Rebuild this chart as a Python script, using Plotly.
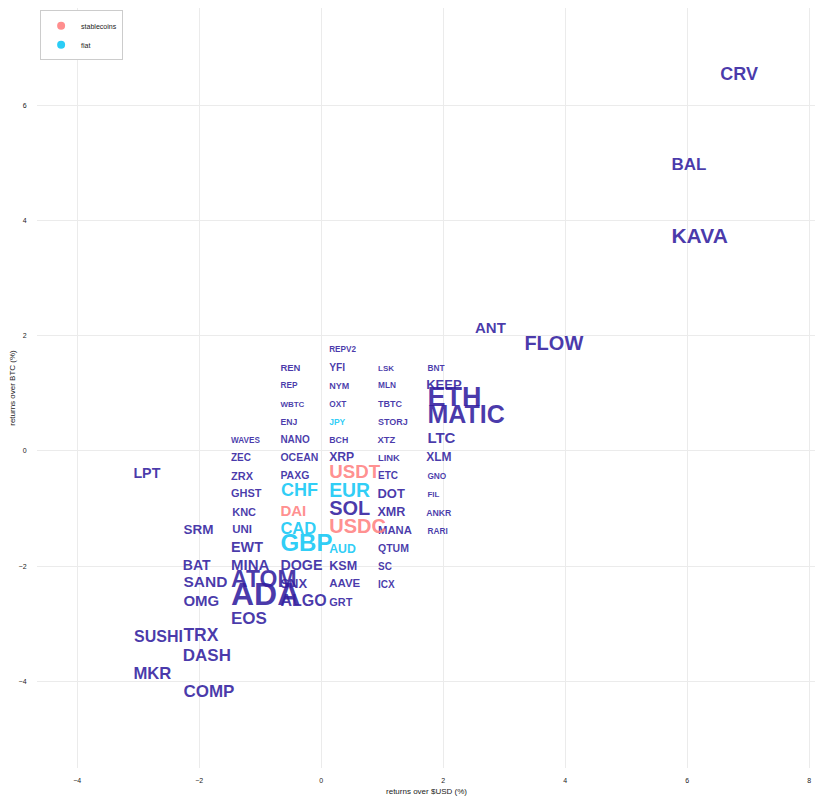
import plotly.graph_objects as go

# ---- data ----
crypto_names = ["CRV", "BAL", "KAVA", "ANT", "FLOW", "REPV2", "REN", "YFI", "LSK", "BNT",
                "REP", "NYM", "MLN", "KEEP", "WBTC", "OXT", "TBTC", "ETH", "ENJ", "STORJ",
                "MATIC", "WAVES", "NANO", "BCH", "XTZ", "LTC", "ZEC", "OCEAN", "XRP", "LINK",
                "XLM", "LPT", "ZRX", "PAXG", "ETC", "GNO", "GHST", "DOT", "FIL", "KNC",
                "SOL", "XMR", "ANKR", "SRM", "UNI", "MANA", "RARI", "EWT", "QTUM", "BAT",
                "MINA", "DOGE", "KSM", "SC", "SAND", "ATOM", "SNX", "AAVE", "ICX", "OMG",
                "ADA", "ALGO", "GRT", "EOS", "SUSHI", "TRX", "DASH", "MKR", "COMP"]
crypto_usd = [6.54, 5.74, 5.74, 2.52, 3.33, 0.13, -0.67, 0.13, 0.93, 1.74,
              -0.67, 0.13, 0.93, 1.72, -0.67, 0.13, 0.93, 1.74, -0.67, 0.93,
              1.74, -1.48, -0.67, 0.13, 0.92, 1.74, -1.48, -0.67, 0.13, 0.93,
              1.72, -3.08, -1.48, -0.67, 0.93, 1.74, -1.48, 0.92, 1.74, -1.46,
              0.13, 0.92, 1.72, -2.26, -1.46, 0.93, 1.74, -1.48, 0.93, -2.27,
              -1.48, -0.67, 0.13, 0.93, -2.26, -1.48, -0.67, 0.13, 0.93, -2.26,
              -1.48, -0.67, 0.13, -1.48, -3.07, -2.26, -2.27, -3.08, -2.26]
crypto_btc = [6.52, 4.95, 3.70, 2.11, 1.83, 1.76, 1.43, 1.43, 1.43, 1.43,
              1.12, 1.12, 1.12, 1.13, 0.80, 0.80, 0.80, 0.89, 0.49, 0.49,
              0.60, 0.18, 0.18, 0.18, 0.18, 0.21, -0.13, -0.13, -0.12, -0.13,
              -0.13, -0.41, -0.45, -0.45, -0.45, -0.45, -0.76, -0.76, -0.76, -1.09,
              -1.02, -1.07, -1.09, -1.38, -1.38, -1.40, -1.40, -1.70, -1.71, -2.01,
              -2.01, -2.01, -2.01, -2.03, -2.30, -2.27, -2.32, -2.32, -2.34, -2.63,
              -2.53, -2.62, -2.65, -2.93, -3.24, -3.22, -3.57, -3.88, -4.20]
crypto_size = [18, 17, 21, 15, 20, 8.2, 9.5, 10.3, 8, 8.3,
               8.3, 9, 8.3, 13, 8, 8.3, 9, 27, 8.7, 9,
               25, 8.2, 10, 8.8, 9.5, 15, 10, 10.5, 12.2, 9.4,
               12, 14.3, 11, 10.5, 10, 8.3, 11, 13, 8, 11,
               20, 12.6, 8.7, 13.5, 11.5, 11.3, 8.3, 14.4, 10.5, 14,
               15, 14.3, 12.6, 10, 15.5, 23, 13, 11.5, 10, 15,
               32, 16, 11, 17, 16, 17.5, 17, 16.7, 17]

stable_names = ["USDT", "DAI", "USDC"]
stable_usd = [0.13, -0.67, 0.13]
stable_btc = [-0.39, -1.07, -1.33]
stable_size = [18.7, 15, 20]

fiat_names = ["JPY", "CHF", "EUR", "CAD", "GBP", "AUD"]
fiat_usd = [0.13, -0.66, 0.13, -0.67, -0.67, 0.13]
fiat_btc = [0.49, -0.71, -0.71, -1.37, -1.63, -1.71]
fiat_size = [8.5, 18, 19.4, 16.6, 24, 12.3]

x_ticks = [-4, -2, 0, 2, 4, 6, 8]
y_ticks = [-4, -2, 0, 2, 4, 6]

PURPLE = "rgba(50,30,160,0.88)"
PINK = "rgba(255,130,130,0.9)"
CYAN = "rgba(20,200,245,0.9)"
FONT = "Liberation Sans, Arial, sans-serif"

fig = go.Figure()

def text_trace(names, xs, ys, sizes, color, name):
    return go.Scatter(
        x=xs, y=ys, text=names, mode="text", name=name, showlegend=False,
        textposition="middle right",
        textfont=dict(family=FONT, size=sizes, color=color, weight="bold"),
        hoverinfo="text",
    )

fig.add_trace(text_trace(crypto_names, crypto_usd, crypto_btc, crypto_size, PURPLE, "crypto"))
fig.add_trace(text_trace(stable_names, stable_usd, stable_btc, stable_size, PINK, "stablecoins"))
fig.add_trace(text_trace(fiat_names, fiat_usd, fiat_btc, fiat_size, CYAN, "fiat"))

# legend entries
fig.add_trace(go.Scatter(x=[None], y=[None], mode="markers", name="stablecoins",
                         marker=dict(color=PINK, size=8, symbol="circle")))
fig.add_trace(go.Scatter(x=[None], y=[None], mode="markers", name="fiat",
                         marker=dict(color=CYAN, size=8, symbol="circle")))

fig.update_layout(
    width=823, height=801,
    margin=dict(l=29, r=15, t=0, b=41),
    paper_bgcolor="white", plot_bgcolor="white",
    font=dict(family=FONT, size=8, color="#222"),
    legend=dict(x=0.004, y=0.997, xanchor="left", yanchor="top",
                bordercolor="#cccccc", borderwidth=1, bgcolor="white",
                font=dict(size=7, color="#222"), tracegroupgap=0, itemwidth=30),
    xaxis=dict(range=[-4.66, 8.11], tickvals=x_ticks, showgrid=True, gridcolor="#ebebeb",
               zeroline=False, showline=False, automargin=False,
               ticks="outside", ticklen=6, tickcolor="rgba(0,0,0,0)",
               tickfont=dict(size=7, color="#222"),
               title=dict(text="returns over $USD (%)", font=dict(size=8, color="#222"), standoff=4)),
    yaxis=dict(range=[-5.503, 7.687], tickvals=y_ticks, showgrid=True, gridcolor="#ebebeb",
               zeroline=False, showline=False, automargin=False,
               ticks="outside", ticklen=8, tickcolor="rgba(0,0,0,0)",
               tickfont=dict(size=7, color="#222"),
               title=dict(text="returns over BTC (%)", font=dict(size=8, color="#222"), standoff=4)),
)

fig.write_html("out.html")
